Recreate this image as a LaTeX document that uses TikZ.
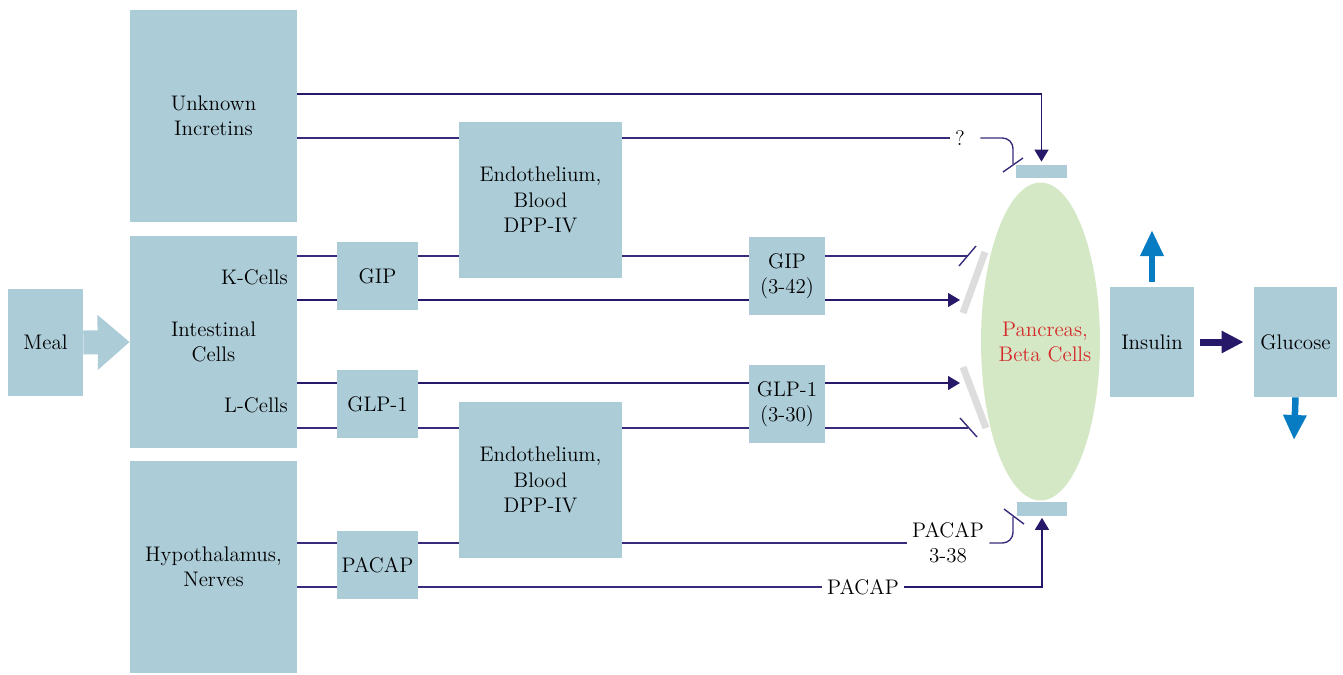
\documentclass[tikz,border=0pt]{standalone}
\usetikzlibrary{arrows.meta,calc,shapes.geometric}
\pgfdeclarelayer{bg}
\pgfsetlayers{bg,main}
\definecolor{boxblue}{RGB}{172,204,216}
\definecolor{pancgreen}{RGB}{213,232,197}
\definecolor{linenavy}{RGB}{55,44,124}
\definecolor{tipnavy}{RGB}{40,24,105}
\definecolor{pancred}{RGB}{212,42,42}
\definecolor{recgray}{RGB}{221,221,221}
\definecolor{upblue}{RGB}{8,124,194}
\tikzset{
  box/.style={fill=boxblue, inner sep=0pt, align=center},
  lbl/.style={inner sep=3pt, align=center},
  ln/.style={draw=linenavy, line width=0.8pt},
  tip/.style={-{Triangle[length=0.24cm,width=0.28cm]}, tipnavy},
  recbar/.style={draw=recgray, line width=0.14cm},
}
\begin{document}
\begin{tikzpicture}[x=0.02cm, y=-0.02cm, font=\fontsize{12}{14.4}\selectfont]
\useasboundingbox (0,0) rectangle (1343,674);

% source boxes
\node[box, minimum width=1.5cm, minimum height=2.14cm] (meal) at (45.5,342.5) {Meal};
\node[box, minimum width=3.34cm, minimum height=4.24cm] (unk) at (213.5,116) {Unknown\\Incretins};
\node[box, minimum width=3.34cm, minimum height=4.24cm] (intest) at (213.5,342) {Intestinal\\Cells};
\node[box, minimum width=3.34cm, minimum height=4.24cm] (hypo) at (213.5,567) {Hypothalamus,\\Nerves};
\node[anchor=east, inner sep=0pt] (kcells) at (288,277) {K-Cells};
\node[anchor=east, inner sep=0pt] (lcells) at (288,405) {L-Cells};

% hormones
\node[box, minimum width=1.62cm, minimum height=1.36cm] (gip) at (377.5,276) {GIP};
\node[box, minimum width=1.62cm, minimum height=1.36cm] (glp) at (377.5,404) {GLP-1};
\node[box, minimum width=1.62cm, minimum height=1.36cm] (pacap) at (377.5,565) {PACAP};

% degradation
\node[box, minimum width=3.26cm, minimum height=3.12cm] (endoA) at (540.5,200) {Endothelium,\\Blood\\DPP-IV};
\node[box, minimum width=3.26cm, minimum height=3.12cm] (endoB) at (540.5,480) {Endothelium,\\Blood\\DPP-IV};

% metabolites
\node[box, minimum width=1.52cm, minimum height=1.56cm] (gipm) at (787,276) {GIP\\(3-42)};
\node[box, minimum width=1.52cm, minimum height=1.56cm] (glpm) at (787,404) {GLP-1\\(3-30)};

% pancreas and receptors
\node[ellipse, draw=none, fill=pancgreen, minimum width=2.38cm, minimum height=6.36cm, inner sep=0pt] (panc) at (1040.5,341.5) {};
\node[align=center, text=pancred, inner sep=0pt] (pancl) at (1045,342) {Pancreas,\\Beta Cells};
\node[box, minimum width=1.02cm, minimum height=0.26cm] (rtop) at (1041.5,171.5) {};
\node[box, minimum width=1.0cm, minimum height=0.28cm] (rbot) at (1042,509) {};
\draw[recbar] (985,252) -- (963,313);
\draw[recbar] (963,367) -- (986,428);

% outputs
\node[box, minimum width=1.68cm, minimum height=2.2cm] (ins) at (1152,342) {Insulin};
\node[box, minimum width=1.66cm, minimum height=2.2cm] (glu) at (1295.5,342) {Glucose};

% labels on connectors
\node[lbl] (q) at (960,138) {?};
\node[lbl] (pl) at (948,543) {PACAP\\3-38};
\node[lbl] (pb) at (863,587) {PACAP};

% end points of the connectors
\coordinate (qend) at (1013,164);
\coordinate (gipbar) at (967,256);
\coordinate (giptip) at (960,300);
\coordinate (glptip) at (960,383);
\coordinate (glpbar) at (968,428);
\coordinate (pend) at (1013,517);
\coordinate (ytop) at (0,94);
\coordinate (yq) at (0,138);
\coordinate (up) at (1152,230);
\coordinate (down) at (1294,440);

\begin{pgfonlayer}{bg}
  % unknown incretins
  \draw[ln, tip, shorten >=0.06cm] (unk.east |- ytop) -| (rtop.north);
  \draw[ln] (unk.east |- yq) -- (q.west);
  \draw[ln, rounded corners=6pt, shorten <=0.2cm] (q.east) -- (qend |- q.east) -- (qend);
  % GIP pathway
  \draw[ln] (intest.east |- gipbar) -- (gipbar);
  \draw[ln, tip] (intest.east |- giptip) -- (giptip);
  % GLP-1 pathway
  \draw[ln, tip] (intest.east |- glptip) -- (glptip);
  \draw[ln] (intest.east |- glpbar) -- (glpbar);
  % PACAP pathway
  \draw[ln] (hypo.east |- pl.east) -- (pl.west);
  \draw[ln, rounded corners=6pt] (pl.east) -- (pend |- pl.east) -- (pend);
  \draw[ln] (hypo.east |- pb) -- (pb.west);
  \draw[ln, tip, shorten >=0.03cm] (pb.east) -| (rbot.south);
\end{pgfonlayer}

% inhibition bars
\draw[ln] ($(qend)+(-10,8)$) -- ($(qend)+(10,-6)$);
\draw[ln] ($(gipbar)+(-8,10)$) -- ($(gipbar)+(9,-10)$);
\draw[ln] ($(glpbar)+(-8,-10)$) -- ($(glpbar)+(9,9)$);
\draw[ln] ($(pend)+(-9,-8)$) -- ($(pend)+(11,7)$);

% block arrows
\draw[boxblue, line width=0.48cm, -{Triangle[length=0.64cm,width=1.06cm]}] (meal.east) -- (intest.west);
\draw[tipnavy, line width=0.14cm, -{Triangle[length=0.44cm,width=0.42cm]}, shorten <=0.12cm, shorten >=0.2cm] (ins.east) -- (glu.west);
\draw[upblue, line width=0.13cm, -{Triangle[length=0.52cm,width=0.44cm]}, shorten <=0.1cm] (ins.north) -- (up);
\draw[upblue, line width=0.13cm, -{Triangle[length=0.5cm,width=0.44cm]}] (glu.south) -- (down);
\end{tikzpicture}
\end{document}
